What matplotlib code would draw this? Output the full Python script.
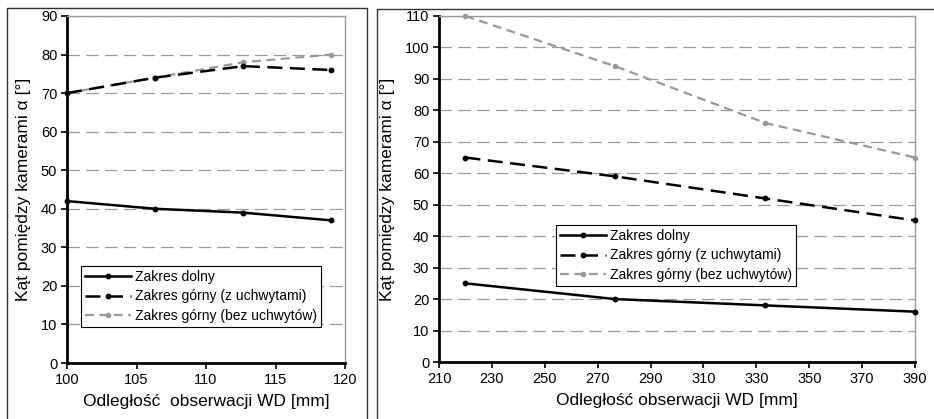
import matplotlib
matplotlib.use("Agg")
from matplotlib import pyplot as plt
from matplotlib.lines import Line2D

plt.rcParams["font.family"] = ["Liberation Sans", "DejaVu Sans"]

# left chart
wd_left = [100, 106.33, 112.67, 119]
dolny_left = [42, 40, 39, 37]
gorny_z_left = [70, 74, 77, 76]
gorny_bez_left = [70, 74, 78, 80]

# right chart
wd_right = [220, 276.67, 333.33, 390]
dolny_right = [25, 20, 18, 16]
gorny_z_right = [65, 59, 52, 45]
gorny_bez_right = [110, 94, 76, 65]

labels = ["Zakres dolny", "Zakres górny (z uchwytami)", "Zakres górny (bez uchwytów)"]
ylabel = "Kąt pomiędzy kamerami α [°]"
xlabel_left = "Odległość  obserwacji WD [mm]"
xlabel_right = "Odległość obserwacji WD [mm]"

W, H = 934, 419
fig = plt.figure(figsize=(W / 100, H / 100), dpi=100)


def ax_rect(x0, y0, x1, y1):
    return [x0 / W, 1 - y1 / H, (x1 - x0) / W, (y1 - y0) / H]


def style_axes(ax, xlabel):
    ax.grid(axis="y", color="#999999", linestyle=(0, (10, 5)), linewidth=0.9)
    ax.set_axisbelow(True)
    for s in ["top", "right"]:
        ax.spines[s].set_color("#999999")
        ax.spines[s].set_linewidth(1.0)
    for s in ["left", "bottom"]:
        ax.spines[s].set_color("black")
        ax.spines[s].set_linewidth(2.0)
    ax.tick_params(direction="out", length=4, width=1.2, labelsize=10.5, pad=3)
    ax.set_ylabel(ylabel, fontsize=12.5, labelpad=7)
    ax.set_xlabel(xlabel, fontsize=12.5, labelpad=5)


def draw(ax, x, a, b, c):
    ax.plot(x, a, color="black", linewidth=1.8, marker="o", markersize=3.2, clip_on=False, zorder=4)
    ax.plot(x, b, color="black", linewidth=1.8, linestyle=(0, (6, 3)), marker="o", markersize=3.2,
            clip_on=False, zorder=4)
    ax.plot(x, c, color="#999999", linewidth=1.6, linestyle=(0, (4, 2.5)), marker="o", markersize=3.0,
            clip_on=False, zorder=3)


def legend(ax, anchor):
    leg = ax.legend(labels, loc="lower left", bbox_to_anchor=anchor, fontsize=10,
                    frameon=True, fancybox=False, edgecolor="black", framealpha=1,
                    handlelength=3.3, handletextpad=0.3, labelspacing=0.38, borderpad=0.3,
                    borderaxespad=0)
    leg.get_frame().set_linewidth(0.8)


# left
ax1 = fig.add_axes(ax_rect(67, 16, 345, 363))
draw(ax1, wd_left, dolny_left, gorny_z_left, gorny_bez_left)
ax1.set_xlim(100, 120)
ax1.set_ylim(0, 90)
ax1.set_xticks(range(100, 121, 5))
ax1.set_yticks(range(0, 91, 10))
style_axes(ax1, xlabel_left)
legend(ax1, (0.05, 0.104))

# right
ax2 = fig.add_axes(ax_rect(439, 16, 915, 362))
draw(ax2, wd_right, dolny_right, gorny_z_right, gorny_bez_right)
ax2.set_xlim(210, 390)
ax2.set_ylim(0, 110)
ax2.set_xticks(range(210, 391, 20))
ax2.set_yticks(range(0, 111, 10))
style_axes(ax2, xlabel_right)
legend(ax2, (0.246, 0.22))


# panel frames
def frame(pts, color):
    xs = [p[0] / W for p in pts]
    ys = [1 - p[1] / H for p in pts]
    fig.add_artist(Line2D(xs, ys, color=color, linewidth=1.0, transform=fig.transFigure))


frame([(7, 419), (7, 8), (367, 8), (367, 419)], "#333333")
frame([(377, 419), (377, 9), (934, 9)], "#333333")

fig.savefig("out.png", dpi=100)
